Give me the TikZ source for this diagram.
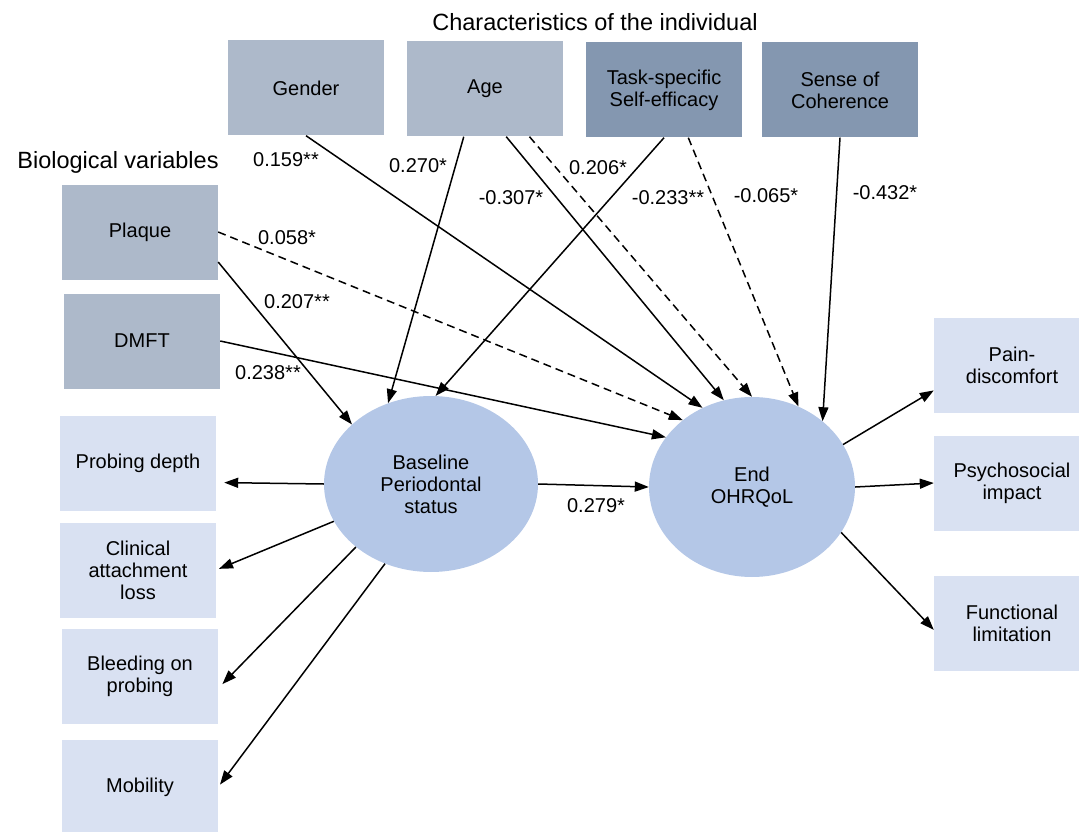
\documentclass[tikz,border=0pt]{standalone}
\usepackage{fontspec}
\setmainfont{Liberation Sans}
\usetikzlibrary{arrows.meta,shapes.geometric}
\definecolor{charbox}{HTML}{ADB9CA}
\definecolor{psybox}{HTML}{8497B0}
\definecolor{indbox}{HTML}{D9E1F2}
\definecolor{latent}{HTML}{B4C7E7}
\begin{document}
\begin{tikzpicture}[x=1pt, y=-1pt,
   every node/.style={font=\fontsize{20}{22}\selectfont, inner sep=0pt},
   obs/.style={rectangle, minimum width=156pt, minimum height=95pt, align=center},
   lat/.style={ellipse, fill=latent, align=center},
   heading/.style={font=\fontsize{23.5}{27}\selectfont},
   effect/.style={line width=1.5pt, -{Triangle[length=14pt,width=10pt]}},
   weakeffect/.style={effect, dash pattern=on 8pt off 5pt}]

\useasboundingbox (0,0) rectangle (1079,832);

\node[heading] (charhead) at (595,22) {Characteristics of the individual};
\node[heading] (biohead) at (118,162) {Biological variables};

\node[obs, fill=charbox] (gender) at (306,88) {Gender};
\node[obs, fill=charbox] (age) at (485,89) {Age};
\node[obs, fill=psybox] (task) at (664,90) {Task-specific\\Self-efficacy};
\node[obs, fill=psybox] (soc) at (840,90) {Sense of\\Coherence};
\node[obs, fill=charbox] (plaque) at (140,232) {Plaque};
\node[obs, fill=charbox] (dmft) at (142,341) {DMFT};

\node[obs, fill=indbox] (probe) at (138,463) {Probing depth};
\node[obs, fill=indbox] (cal) at (138,570) {Clinical\\attachment\\loss};
\node[obs, fill=indbox] (bop) at (140,676) {Bleeding on\\probing};
\node[obs, fill=indbox] (mob) at (140,787) {Mobility};

\node[obs, fill=indbox] (pain) at (1012,365) {Pain-\\discomfort};
\node[obs, fill=indbox] (psy) at (1012,483) {Psychosocial\\impact};
\node[obs, fill=indbox] (func) at (1012,623) {Functional\\limitation};

\node[lat, minimum width=214pt, minimum height=176pt] (base) at (431,484)
   {Baseline\\Periodontal\\status};
\node[lat, minimum width=206pt, minimum height=180pt] (endq) at (752,487)
   {End\\OHRQoL};

\draw[effect] (gender.south) -- (endq.122);
\draw[effect] (age.246) -- (base.118);
\draw[effect] (age.294) -- (endq.108);
\draw[weakeffect] (age.313) -- (endq.90);
\draw[effect] (task.south) -- (base.87);
\draw[weakeffect] (task.297) -- (endq.60);
\draw[effect] (soc.south) -- (endq.43);
\draw[weakeffect] (plaque.east) -- (endq.136);
\draw[effect] (plaque.339) -- (base.143);
\draw[effect] (dmft.east) -- (endq.150);
\draw[effect] (base.east) -- (endq.west);

\draw[effect, shorten >=8pt] (base.west) -- (probe.346);
\draw[effect, shorten >=3pt] (base.201) -- (cal.east);
\draw[effect, shorten >=6pt] (base.220) -- (bop.351);
\draw[effect, shorten >=3pt] (base.240) -- (mob.east);

\draw[effect] (endq.25) -- (pain.198);
\draw[effect] (endq.east) -- (psy.west);
\draw[effect] (endq.333) -- (func.185);

\node (cgender) at (286,160) {0.159**};
\node (cagebase) at (418,166) {0.270*};
\node (cageend) at (511,198) {-0.307*};
\node (ctaskbase) at (598,168) {0.206*};
\node (ctaskend) at (668,198) {-0.233**};
\node (cagedash) at (766,196) {-0.065*};
\node (csoc) at (885,193) {-0.432*};
\node (cplaqueend) at (287,238) {0.058*};
\node (cplaquebase) at (297,302) {0.207**};
\node (cdmft) at (268,373) {0.238**};
\node (cbase) at (596,506) {0.279*};

\end{tikzpicture}
\end{document}
